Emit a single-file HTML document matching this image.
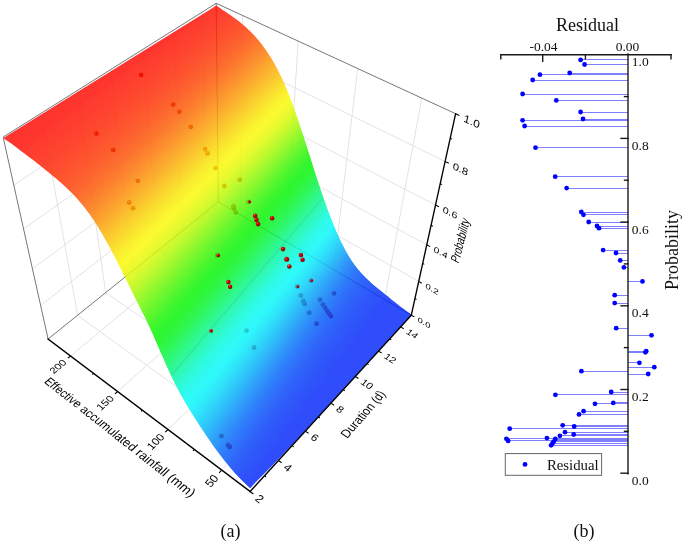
<!DOCTYPE html>
<html><head><meta charset="utf-8"><title>fig</title>
<style>
html,body{margin:0;padding:0;background:#fff;}
body{width:685px;height:543px;position:relative;overflow:hidden;font-family:"Liberation Sans",sans-serif;}
svg text{font-family:"Liberation Sans",sans-serif;}
.gr{stroke:#e3e3e3;stroke-width:1;fill:none}
.fr{stroke:#777;stroke-width:1;fill:none}
.in .gr{stroke:#efefef}
.in .fr{stroke:#8a8a8a}
.ax{stroke:#000;stroke-width:1.35;stroke-linecap:square}
.tk{stroke:#000;stroke-width:1.05}
.t3{font-size:10px;fill:#000}
.st{stroke:#8080ff;stroke-width:1}
.bx{stroke:#1a1a1a;stroke-width:1.4;stroke-linecap:square}
svg text.sl{font-family:"Liberation Serif",serif;font-size:13.5px;fill:#111}
svg text.st18{font-family:"Liberation Serif",serif;font-size:18px;fill:#111}
svg text.sg{font-family:"Liberation Serif",serif;font-size:14.8px;fill:#111}
svg text.cap{font-family:"Liberation Serif",serif;font-size:18px;fill:#111}
</style></head><body>
<svg width="685" height="543" viewBox="0 0 685 543" style="position:absolute;left:0;top:0">
<defs><radialGradient id="ball" cx="0.38" cy="0.32" r="0.75" fx="0.33" fy="0.27">
<stop offset="0" stop-color="#ff9080"/><stop offset="0.22" stop-color="#d80808"/><stop offset="0.65" stop-color="#b40000"/><stop offset="1" stop-color="#4a0000"/></radialGradient></defs>

<clipPath id="sc"><polygon points="3.4,138.1 16.6,147.5 32.4,159.3 44.1,168.6 54.0,176.7 62.3,183.9 68.8,189.8 73.8,194.9 77.9,199.3 81.4,203.4 84.5,207.2 87.3,210.8 89.8,214.3 92.1,217.6 94.2,220.8 96.3,223.9 98.2,226.9 100.0,229.9 101.7,232.8 103.4,235.7 105.0,238.5 106.5,241.3 108.0,244.1 109.5,246.8 111.0,249.5 112.4,252.2 113.8,254.8 115.1,257.4 116.5,260.1 117.8,262.7 119.1,265.2 120.4,267.8 121.7,270.3 122.9,272.9 124.2,275.4 125.4,277.9 126.7,280.4 127.9,282.9 129.1,285.4 130.3,287.8 131.5,290.3 132.7,292.8 133.9,295.2 135.1,297.7 136.4,300.2 137.6,302.6 138.9,305.1 140.1,307.6 141.4,310.0 142.7,312.5 143.9,314.9 145.1,317.4 146.3,319.7 147.4,322.1 148.5,324.4 149.5,326.7 150.6,329.0 151.6,331.3 152.6,333.5 153.6,335.7 154.6,337.9 155.5,340.1 156.5,342.3 157.4,344.5 158.4,346.7 159.3,348.9 160.2,351.0 161.2,353.2 162.1,355.3 163.0,357.5 164.0,359.6 164.9,361.8 165.9,363.9 166.8,366.0 167.8,368.2 168.7,370.3 169.7,372.5 170.8,374.7 171.8,376.9 172.9,379.0 173.9,381.3 175.1,383.5 176.2,385.7 177.4,388.0 178.6,390.3 179.8,392.6 181.1,394.9 182.4,397.3 183.8,399.6 185.1,402.0 186.6,404.5 188.0,406.9 189.5,409.4 191.1,411.9 192.7,414.4 194.3,416.9 195.9,419.5 197.5,422.1 199.2,424.6 200.9,427.2 202.6,429.8 204.4,432.5 206.1,435.1 208.0,437.8 209.9,440.5 211.8,443.3 213.8,446.1 215.8,448.9 217.9,451.8 220.2,454.8 222.5,457.9 225.0,461.0 227.6,464.3 230.5,467.8 233.7,471.5 237.4,475.6 242.0,480.3 249.2,487.0 250.2,487.9 250.2,487.9 250.2,487.9 411.5,314.5 405.0,309.9 396.1,303.2 388.8,297.4 381.7,291.7 375.1,286.4 369.8,281.8 365.6,277.8 362.3,274.4 359.4,271.2 357.0,268.3 354.9,265.6 353.0,262.9 351.3,260.4 349.7,258.0 348.3,255.6 346.9,253.3 345.7,251.0 344.5,248.8 343.3,246.6 342.2,244.4 341.1,242.2 340.1,240.1 339.1,238.0 338.2,235.9 337.2,233.8 336.3,231.7 335.4,229.6 334.5,227.5 333.7,225.4 332.8,223.4 332.0,221.3 331.2,219.3 330.4,217.2 329.6,215.2 328.8,213.1 328.1,211.1 327.3,209.1 326.6,207.0 325.8,205.0 325.1,202.9 324.4,200.9 323.7,198.9 323.0,196.8 322.3,194.8 321.6,192.8 320.9,190.7 320.2,188.7 319.5,186.7 318.8,184.6 318.2,182.6 317.5,180.5 316.8,178.5 316.2,176.4 315.5,174.4 314.8,172.3 314.2,170.3 313.5,168.2 312.9,166.1 312.2,164.1 311.5,162.0 310.9,159.9 310.2,157.8 309.6,155.7 308.9,153.6 308.2,151.5 307.6,149.4 306.9,147.3 306.2,145.2 305.5,143.1 304.9,141.0 304.2,138.8 303.5,136.7 302.8,134.5 302.1,132.4 301.4,130.2 300.7,128.0 299.9,125.8 299.2,123.7 298.5,121.5 297.7,119.3 297.0,117.0 296.2,114.8 295.4,112.6 294.6,110.3 293.8,108.1 293.0,105.8 292.2,103.5 291.3,101.2 290.4,98.9 289.5,96.6 288.6,94.2 287.7,91.9 286.7,89.5 285.7,87.1 284.7,84.7 283.6,82.3 282.5,79.8 281.3,77.3 280.1,74.8 278.8,72.3 277.5,69.7 276.1,67.1 274.7,64.4 273.2,61.7 271.5,59.0 269.8,56.2 268.0,53.4 266.0,50.5 263.9,47.5 261.6,44.4 259.1,41.3 256.3,38.0 253.1,34.5 249.5,30.8 245.1,26.7 239.8,22.3 232.9,17.1 223.9,10.9 216.2,5.8 216.2,5.8"/></clipPath>
<line class="gr" x1="40.6" y1="305.4" x2="217.9" y2="167.9"/>
<line class="gr" x1="217.9" y1="167.9" x2="418.7" y2="281.4"/>
<line class="gr" x1="32.5" y1="268.8" x2="217.5" y2="131.4"/>
<line class="gr" x1="217.5" y1="131.4" x2="426.8" y2="244.8"/>
<line class="gr" x1="23.6" y1="228.9" x2="217.1" y2="92.0"/>
<line class="gr" x1="217.1" y1="92.0" x2="435.5" y2="205.0"/>
<line class="gr" x1="13.8" y1="185.2" x2="216.7" y2="49.5"/>
<line class="gr" x1="216.7" y1="49.5" x2="445.1" y2="161.5"/>
<line class="gr" x1="77.6" y1="315.3" x2="41.0" y2="113.4"/>
<line class="gr" x1="77.6" y1="315.3" x2="278.4" y2="460.5"/>
<line class="gr" x1="105.7" y1="292.6" x2="76.8" y2="90.9"/>
<line class="gr" x1="105.7" y1="292.6" x2="305.3" y2="431.1"/>
<line class="gr" x1="132.6" y1="270.9" x2="110.7" y2="69.6"/>
<line class="gr" x1="132.6" y1="270.9" x2="330.9" y2="403.1"/>
<line class="gr" x1="158.4" y1="250.2" x2="142.8" y2="49.4"/>
<line class="gr" x1="158.4" y1="250.2" x2="355.3" y2="376.5"/>
<line class="gr" x1="183.1" y1="230.3" x2="173.2" y2="30.3"/>
<line class="gr" x1="183.1" y1="230.3" x2="378.5" y2="351.1"/>
<line class="gr" x1="206.8" y1="211.2" x2="202.2" y2="12.1"/>
<line class="gr" x1="206.8" y1="211.2" x2="400.6" y2="326.9"/>
<line class="gr" x1="240.1" y1="214.7" x2="242.6" y2="15.5"/>
<line class="gr" x1="70.6" y1="356.0" x2="240.1" y2="214.7"/>
<line class="gr" x1="285.5" y1="241.4" x2="298.2" y2="41.1"/>
<line class="gr" x1="117.6" y1="391.5" x2="285.5" y2="241.4"/>
<line class="gr" x1="333.6" y1="269.6" x2="357.7" y2="68.6"/>
<line class="gr" x1="167.9" y1="429.5" x2="333.6" y2="269.6"/>
<line class="gr" x1="384.7" y1="299.5" x2="421.7" y2="98.1"/>
<line class="gr" x1="221.7" y1="470.1" x2="384.7" y2="299.5"/>
<line class="fr" x1="48.1" y1="339.0" x2="3.1" y2="137.1"/>
<line class="fr" x1="3.1" y1="137.1" x2="216.2" y2="3.3"/>
<line class="fr" x1="216.2" y1="3.3" x2="455.6" y2="113.7"/>
<line class="fr" x1="218.3" y1="201.9" x2="216.2" y2="3.3"/>
<line class="fr" x1="48.1" y1="339.0" x2="218.3" y2="201.9"/>
<line class="fr" x1="218.3" y1="201.9" x2="411.3" y2="315.2"/>
<polygon fill="#fff" points="3.4,138.1 16.6,147.5 32.4,159.3 44.1,168.6 54.0,176.7 62.3,183.9 68.8,189.8 73.8,194.9 77.9,199.3 81.4,203.4 84.5,207.2 87.3,210.8 89.8,214.3 92.1,217.6 94.2,220.8 96.3,223.9 98.2,226.9 100.0,229.9 101.7,232.8 103.4,235.7 105.0,238.5 106.5,241.3 108.0,244.1 109.5,246.8 111.0,249.5 112.4,252.2 113.8,254.8 115.1,257.4 116.5,260.1 117.8,262.7 119.1,265.2 120.4,267.8 121.7,270.3 122.9,272.9 124.2,275.4 125.4,277.9 126.7,280.4 127.9,282.9 129.1,285.4 130.3,287.8 131.5,290.3 132.7,292.8 133.9,295.2 135.1,297.7 136.4,300.2 137.6,302.6 138.9,305.1 140.1,307.6 141.4,310.0 142.7,312.5 143.9,314.9 145.1,317.4 146.3,319.7 147.4,322.1 148.5,324.4 149.5,326.7 150.6,329.0 151.6,331.3 152.6,333.5 153.6,335.7 154.6,337.9 155.5,340.1 156.5,342.3 157.4,344.5 158.4,346.7 159.3,348.9 160.2,351.0 161.2,353.2 162.1,355.3 163.0,357.5 164.0,359.6 164.9,361.8 165.9,363.9 166.8,366.0 167.8,368.2 168.7,370.3 169.7,372.5 170.8,374.7 171.8,376.9 172.9,379.0 173.9,381.3 175.1,383.5 176.2,385.7 177.4,388.0 178.6,390.3 179.8,392.6 181.1,394.9 182.4,397.3 183.8,399.6 185.1,402.0 186.6,404.5 188.0,406.9 189.5,409.4 191.1,411.9 192.7,414.4 194.3,416.9 195.9,419.5 197.5,422.1 199.2,424.6 200.9,427.2 202.6,429.8 204.4,432.5 206.1,435.1 208.0,437.8 209.9,440.5 211.8,443.3 213.8,446.1 215.8,448.9 217.9,451.8 220.2,454.8 222.5,457.9 225.0,461.0 227.6,464.3 230.5,467.8 233.7,471.5 237.4,475.6 242.0,480.3 249.2,487.0 250.2,487.9 250.2,487.9 250.2,487.9 411.5,314.5 405.0,309.9 396.1,303.2 388.8,297.4 381.7,291.7 375.1,286.4 369.8,281.8 365.6,277.8 362.3,274.4 359.4,271.2 357.0,268.3 354.9,265.6 353.0,262.9 351.3,260.4 349.7,258.0 348.3,255.6 346.9,253.3 345.7,251.0 344.5,248.8 343.3,246.6 342.2,244.4 341.1,242.2 340.1,240.1 339.1,238.0 338.2,235.9 337.2,233.8 336.3,231.7 335.4,229.6 334.5,227.5 333.7,225.4 332.8,223.4 332.0,221.3 331.2,219.3 330.4,217.2 329.6,215.2 328.8,213.1 328.1,211.1 327.3,209.1 326.6,207.0 325.8,205.0 325.1,202.9 324.4,200.9 323.7,198.9 323.0,196.8 322.3,194.8 321.6,192.8 320.9,190.7 320.2,188.7 319.5,186.7 318.8,184.6 318.2,182.6 317.5,180.5 316.8,178.5 316.2,176.4 315.5,174.4 314.8,172.3 314.2,170.3 313.5,168.2 312.9,166.1 312.2,164.1 311.5,162.0 310.9,159.9 310.2,157.8 309.6,155.7 308.9,153.6 308.2,151.5 307.6,149.4 306.9,147.3 306.2,145.2 305.5,143.1 304.9,141.0 304.2,138.8 303.5,136.7 302.8,134.5 302.1,132.4 301.4,130.2 300.7,128.0 299.9,125.8 299.2,123.7 298.5,121.5 297.7,119.3 297.0,117.0 296.2,114.8 295.4,112.6 294.6,110.3 293.8,108.1 293.0,105.8 292.2,103.5 291.3,101.2 290.4,98.9 289.5,96.6 288.6,94.2 287.7,91.9 286.7,89.5 285.7,87.1 284.7,84.7 283.6,82.3 282.5,79.8 281.3,77.3 280.1,74.8 278.8,72.3 277.5,69.7 276.1,67.1 274.7,64.4 273.2,61.7 271.5,59.0 269.8,56.2 268.0,53.4 266.0,50.5 263.9,47.5 261.6,44.4 259.1,41.3 256.3,38.0 253.1,34.5 249.5,30.8 245.1,26.7 239.8,22.3 232.9,17.1 223.9,10.9 216.2,5.8 216.2,5.8"/>
<g clip-path="url(#sc)" class="in">
<line class="gr" x1="40.6" y1="305.4" x2="217.9" y2="167.9"/>
<line class="gr" x1="217.9" y1="167.9" x2="418.7" y2="281.4"/>
<line class="gr" x1="32.5" y1="268.8" x2="217.5" y2="131.4"/>
<line class="gr" x1="217.5" y1="131.4" x2="426.8" y2="244.8"/>
<line class="gr" x1="23.6" y1="228.9" x2="217.1" y2="92.0"/>
<line class="gr" x1="217.1" y1="92.0" x2="435.5" y2="205.0"/>
<line class="gr" x1="13.8" y1="185.2" x2="216.7" y2="49.5"/>
<line class="gr" x1="216.7" y1="49.5" x2="445.1" y2="161.5"/>
<line class="gr" x1="77.6" y1="315.3" x2="41.0" y2="113.4"/>
<line class="gr" x1="77.6" y1="315.3" x2="278.4" y2="460.5"/>
<line class="gr" x1="105.7" y1="292.6" x2="76.8" y2="90.9"/>
<line class="gr" x1="105.7" y1="292.6" x2="305.3" y2="431.1"/>
<line class="gr" x1="132.6" y1="270.9" x2="110.7" y2="69.6"/>
<line class="gr" x1="132.6" y1="270.9" x2="330.9" y2="403.1"/>
<line class="gr" x1="158.4" y1="250.2" x2="142.8" y2="49.4"/>
<line class="gr" x1="158.4" y1="250.2" x2="355.3" y2="376.5"/>
<line class="gr" x1="183.1" y1="230.3" x2="173.2" y2="30.3"/>
<line class="gr" x1="183.1" y1="230.3" x2="378.5" y2="351.1"/>
<line class="gr" x1="206.8" y1="211.2" x2="202.2" y2="12.1"/>
<line class="gr" x1="206.8" y1="211.2" x2="400.6" y2="326.9"/>
<line class="gr" x1="240.1" y1="214.7" x2="242.6" y2="15.5"/>
<line class="gr" x1="70.6" y1="356.0" x2="240.1" y2="214.7"/>
<line class="gr" x1="285.5" y1="241.4" x2="298.2" y2="41.1"/>
<line class="gr" x1="117.6" y1="391.5" x2="285.5" y2="241.4"/>
<line class="gr" x1="333.6" y1="269.6" x2="357.7" y2="68.6"/>
<line class="gr" x1="167.9" y1="429.5" x2="333.6" y2="269.6"/>
<line class="gr" x1="384.7" y1="299.5" x2="421.7" y2="98.1"/>
<line class="gr" x1="221.7" y1="470.1" x2="384.7" y2="299.5"/>
<line class="fr" x1="48.1" y1="339.0" x2="3.1" y2="137.1"/>
<line class="fr" x1="3.1" y1="137.1" x2="216.2" y2="3.3"/>
<line class="fr" x1="216.2" y1="3.3" x2="455.6" y2="113.7"/>
<line class="fr" x1="218.3" y1="201.9" x2="216.2" y2="3.3"/>
<line class="fr" x1="48.1" y1="339.0" x2="218.3" y2="201.9"/>
<line class="fr" x1="218.3" y1="201.9" x2="411.3" y2="315.2"/>
</g>
<g id="under">
<circle cx="141.1" cy="74.9" r="2.4" fill="url(#ball)"/>
<circle cx="173.2" cy="104.6" r="2.4" fill="url(#ball)"/>
<circle cx="179.3" cy="111.7" r="2.4" fill="url(#ball)"/>
<circle cx="190.8" cy="126.8" r="2.4" fill="url(#ball)"/>
<circle cx="96.4" cy="133.6" r="2.4" fill="url(#ball)"/>
<circle cx="113.3" cy="149.9" r="2.4" fill="url(#ball)"/>
<circle cx="205.1" cy="149.1" r="2.4" fill="url(#ball)"/>
<circle cx="207.5" cy="153.4" r="2.4" fill="url(#ball)"/>
<circle cx="215.4" cy="167.9" r="2.4" fill="url(#ball)"/>
<circle cx="137.8" cy="180.8" r="2.4" fill="url(#ball)"/>
<circle cx="129.2" cy="202.5" r="2.4" fill="url(#ball)"/>
<circle cx="133.0" cy="208.2" r="2.4" fill="url(#ball)"/>
<circle cx="239.7" cy="179.7" r="2.4" fill="url(#ball)"/>
<circle cx="224.3" cy="186.0" r="2.4" fill="url(#ball)"/>
<circle cx="233.4" cy="206.4" r="2.4" fill="url(#ball)"/>
<circle cx="234.0" cy="208.4" r="2.4" fill="url(#ball)"/>
<circle cx="235.7" cy="212.3" r="2.4" fill="url(#ball)"/>
<circle cx="246.5" cy="330.6" r="2.4" fill="url(#ball)"/>
<circle cx="254.0" cy="347.5" r="2.4" fill="url(#ball)"/>
<circle cx="221.4" cy="436.1" r="2.4" fill="url(#ball)"/>
<circle cx="227.9" cy="444.9" r="2.4" fill="url(#ball)"/>
<circle cx="229.7" cy="447.0" r="2.4" fill="url(#ball)"/>
<circle cx="300.8" cy="295.4" r="2.4" fill="url(#ball)"/>
<circle cx="303.3" cy="301.0" r="2.4" fill="url(#ball)"/>
<circle cx="304.7" cy="303.9" r="2.4" fill="url(#ball)"/>
<circle cx="309.1" cy="312.7" r="2.4" fill="url(#ball)"/>
<circle cx="316.4" cy="323.7" r="2.4" fill="url(#ball)"/>
<circle cx="319.9" cy="299.6" r="2.4" fill="url(#ball)"/>
<circle cx="322.8" cy="304.4" r="2.4" fill="url(#ball)"/>
<circle cx="325.0" cy="307.6" r="2.4" fill="url(#ball)"/>
<circle cx="327.0" cy="310.8" r="2.4" fill="url(#ball)"/>
<circle cx="328.8" cy="313.3" r="2.4" fill="url(#ball)"/>
<circle cx="330.9" cy="316.1" r="2.4" fill="url(#ball)"/>
<circle cx="334.0" cy="293.3" r="2.4" fill="url(#ball)"/>
<circle cx="248.4" cy="201.8" r="2.4" fill="url(#ball)"/>
<circle cx="217.4" cy="255.4" r="2.4" fill="url(#ball)"/>
<circle cx="311.0" cy="280.6" r="2.4" fill="url(#ball)"/>
<circle cx="297.2" cy="286.5" r="2.4" fill="url(#ball)"/>
</g>

<g opacity="0.81">
<polygon fill="rgb(254,6,0)" points="3.4,138.1 4.9,139.2 6.6,140.4 8.3,141.5 9.8,142.6 11.3,143.6 12.6,144.6 13.9,145.5 15.8,146.9 17.6,148.2 19.2,149.4 28.3,156.1 221.0,8.9 216.2,5.8 216.2,5.8 216.2,5.8 216.2,5.8 216.2,5.8 216.2,5.8 216.2,5.8 216.2,5.8 216.2,5.8 216.2,5.8 216.2,5.8"/>
<polygon fill="rgb(254,12,0)" points="19.2,149.4 216.2,5.8 217.1,6.4 22.3,151.7"/>
<polygon fill="rgb(254,13,0)" points="20.8,150.6 216.3,5.8 218.0,7.0 23.8,152.8"/>
<polygon fill="rgb(254,14,0)" points="22.3,151.7 217.1,6.4 218.9,7.6 25.2,153.8"/>
<polygon fill="rgb(254,15,0)" points="23.8,152.8 218.0,7.0 219.8,8.2 26.6,154.9"/>
<polygon fill="rgb(254,16,0)" points="25.2,153.8 218.9,7.6 220.7,8.8 27.9,155.9"/>
<polygon fill="rgb(254,17,0)" points="26.6,154.9 219.8,8.2 221.6,9.4 29.2,156.9"/>
<polygon fill="rgb(254,18,0)" points="27.9,155.9 220.7,8.8 222.8,10.2 30.9,158.1"/>
<polygon fill="rgb(254,19,0)" points="29.2,156.9 221.6,9.4 224.0,11.0 32.5,159.4"/>
<polygon fill="rgb(254,20,0)" points="30.9,158.1 222.8,10.2 225.2,11.8 34.1,160.6"/>
<polygon fill="rgb(254,21,0)" points="32.5,159.4 224.0,11.0 226.4,12.5 35.6,161.8"/>
<polygon fill="rgb(254,23,0)" points="34.1,160.6 225.2,11.8 227.5,13.3 37.0,162.9"/>
<polygon fill="rgb(254,24,0)" points="35.6,161.8 226.4,12.5 228.6,14.0 38.5,164.0"/>
<polygon fill="rgb(254,25,0)" points="37.0,162.9 227.5,13.3 229.7,14.8 39.8,165.1"/>
<polygon fill="rgb(254,26,0)" points="38.5,164.0 228.6,14.0 230.7,15.5 41.2,166.2"/>
<polygon fill="rgb(254,27,0)" points="39.8,165.1 229.7,14.8 231.7,16.2 42.5,167.3"/>
<polygon fill="rgb(254,29,0)" points="41.2,166.2 230.7,15.5 232.7,16.9 43.8,168.3"/>
<polygon fill="rgb(254,30,0)" points="42.5,167.3 231.7,16.2 233.6,17.6 45.1,169.4"/>
<polygon fill="rgb(254,31,0)" points="43.8,168.3 232.7,16.9 234.5,18.2 46.3,170.4"/>
<polygon fill="rgb(254,32,0)" points="45.1,169.4 233.6,17.6 235.6,19.0 47.9,171.6"/>
<polygon fill="rgb(254,34,0)" points="46.3,170.4 234.5,18.2 236.7,19.8 49.3,172.8"/>
<polygon fill="rgb(254,35,0)" points="47.9,171.6 235.6,19.0 237.7,20.6 50.8,174.0"/>
<polygon fill="rgb(254,37,0)" points="49.3,172.8 236.7,19.8 238.6,21.3 52.2,175.2"/>
<polygon fill="rgb(254,38,0)" points="50.8,174.0 237.7,20.6 239.6,22.1 53.6,176.4"/>
<polygon fill="rgb(254,40,0)" points="52.2,175.2 238.6,21.3 240.5,22.8 55.0,177.5"/>
<polygon fill="rgb(254,41,0)" points="53.6,176.4 239.6,22.1 241.3,23.5 56.3,178.6"/>
<polygon fill="rgb(254,43,0)" points="55.0,177.5 240.5,22.8 242.1,24.2 57.6,179.8"/>
<polygon fill="rgb(254,45,0)" points="56.3,178.6 241.3,23.5 242.9,24.8 58.9,180.8"/>
<polygon fill="rgb(254,46,0)" points="57.6,179.8 242.1,24.2 243.7,25.5 60.1,181.9"/>
<polygon fill="rgb(254,48,0)" points="58.9,180.8 242.9,24.8 244.6,26.3 61.5,183.1"/>
<polygon fill="rgb(254,49,0)" points="60.1,181.9 243.7,25.5 245.5,27.0 62.8,184.3"/>
<polygon fill="rgb(253,51,0)" points="61.5,183.1 244.6,26.3 246.3,27.8 64.1,185.4"/>
<polygon fill="rgb(253,53,0)" points="62.8,184.3 245.5,27.0 247.1,28.5 65.3,186.6"/>
<polygon fill="rgb(253,55,0)" points="64.1,185.4 246.3,27.8 248.0,29.4 66.7,187.8"/>
<polygon fill="rgb(253,57,0)" points="65.3,186.6 247.1,28.5 248.9,30.2 67.9,189.0"/>
<polygon fill="rgb(253,59,0)" points="66.7,187.8 248.0,29.4 249.7,31.0 69.1,190.1"/>
<polygon fill="rgb(253,61,0)" points="67.9,189.0 248.9,30.2 250.6,31.9 70.4,191.4"/>
<polygon fill="rgb(253,63,0)" points="69.1,190.1 249.7,31.0 251.5,32.8 71.6,192.6"/>
<polygon fill="rgb(253,65,0)" points="70.4,191.4 250.6,31.9 252.4,33.7 72.8,193.8"/>
<polygon fill="rgb(253,68,0)" points="71.6,192.6 251.5,32.8 253.3,34.6 74.0,195.1"/>
<polygon fill="rgb(253,70,0)" points="72.8,193.8 252.4,33.7 254.2,35.6 75.2,196.3"/>
<polygon fill="rgb(253,73,0)" points="74.0,195.1 253.3,34.6 255.0,36.5 76.3,197.6"/>
<polygon fill="rgb(253,76,0)" points="75.2,196.3 254.2,35.6 255.9,37.6 77.5,198.9"/>
<polygon fill="rgb(253,78,0)" points="76.3,197.6 255.0,36.5 256.8,38.6 78.6,200.1"/>
<polygon fill="rgb(253,81,0)" points="77.5,198.9 255.9,37.6 257.7,39.6 79.7,201.4"/>
<polygon fill="rgb(253,84,0)" points="78.6,200.1 256.8,38.6 258.6,40.7 80.8,202.7"/>
<polygon fill="rgb(253,87,0)" points="79.7,201.4 257.7,39.6 259.5,41.7 81.9,204.0"/>
<polygon fill="rgb(253,90,0)" points="80.8,202.7 258.6,40.7 260.3,42.8 82.9,205.3"/>
<polygon fill="rgb(253,94,0)" points="81.9,204.0 259.5,41.7 261.2,43.9 84.0,206.6"/>
<polygon fill="rgb(253,97,0)" points="82.9,205.3 260.3,42.8 262.1,45.1 85.1,208.0"/>
<polygon fill="rgb(252,100,0)" points="84.0,206.6 261.2,43.9 262.9,46.2 86.1,209.3"/>
<polygon fill="rgb(252,104,0)" points="85.1,208.0 262.1,45.1 263.7,47.3 87.0,210.5"/>
<polygon fill="rgb(252,107,0)" points="86.1,209.3 262.9,46.2 264.6,48.4 88.1,211.9"/>
<polygon fill="rgb(252,110,0)" points="87.0,210.5 263.7,47.3 265.4,49.6 89.0,213.3"/>
<polygon fill="rgb(252,114,0)" points="88.1,211.9 264.6,48.4 266.2,50.8 90.0,214.6"/>
<polygon fill="rgb(252,118,0)" points="89.0,213.3 265.4,49.6 267.0,52.0 91.0,216.0"/>
<polygon fill="rgb(252,121,0)" points="90.0,214.6 266.2,50.8 267.9,53.2 91.9,217.4"/>
<polygon fill="rgb(252,125,0)" points="91.0,216.0 267.0,52.0 268.6,54.4 92.9,218.7"/>
<polygon fill="rgb(252,129,0)" points="91.9,217.4 267.9,53.2 269.4,55.6 93.8,220.1"/>
<polygon fill="rgb(252,133,0)" points="92.9,218.7 268.6,54.4 270.2,56.8 94.7,221.5"/>
<polygon fill="rgb(252,137,0)" points="93.8,220.1 269.4,55.6 271.0,58.1 95.6,222.9"/>
<polygon fill="rgb(252,141,0)" points="94.7,221.5 270.2,56.8 271.7,59.3 96.5,224.3"/>
<polygon fill="rgb(252,144,0)" points="95.6,222.9 271.0,58.1 272.5,60.6 97.4,225.6"/>
<polygon fill="rgb(252,148,0)" points="96.5,224.3 271.7,59.3 273.2,61.9 98.3,227.1"/>
<polygon fill="rgb(251,152,0)" points="97.4,225.6 272.5,60.6 274.0,63.2 99.1,228.5"/>
<polygon fill="rgb(251,156,0)" points="98.3,227.1 273.2,61.9 274.7,64.5 100.0,229.9"/>
<polygon fill="rgb(251,160,0)" points="99.1,228.5 274.0,63.2 275.4,65.7 100.8,231.3"/>
<polygon fill="rgb(251,164,0)" points="100.0,229.9 274.7,64.5 276.1,67.0 101.7,232.7"/>
<polygon fill="rgb(251,168,0)" points="100.8,231.3 275.4,65.7 276.8,68.3 102.5,234.1"/>
<polygon fill="rgb(251,172,0)" points="101.7,232.7 276.1,67.0 277.5,69.6 103.3,235.6"/>
<polygon fill="rgb(251,176,0)" points="102.5,234.1 276.8,68.3 278.1,70.9 104.1,237.0"/>
<polygon fill="rgb(251,180,0)" points="103.3,235.6 277.5,69.6 278.8,72.2 104.9,238.5"/>
<polygon fill="rgb(251,184,0)" points="104.1,237.0 278.1,70.9 279.5,73.5 105.7,239.9"/>
<polygon fill="rgb(251,188,0)" points="104.9,238.5 278.8,72.2 280.1,74.8 106.5,241.3"/>
<polygon fill="rgb(251,192,0)" points="105.7,239.9 279.5,73.5 280.7,76.1 107.3,242.7"/>
<polygon fill="rgb(251,196,0)" points="106.5,241.3 280.1,74.8 281.4,77.4 108.1,244.2"/>
<polygon fill="rgb(250,200,0)" points="107.3,242.7 280.7,76.1 282.0,78.8 108.9,245.7"/>
<polygon fill="rgb(250,204,0)" points="108.1,244.2 281.4,77.4 282.6,80.1 109.7,247.1"/>
<polygon fill="rgb(250,208,0)" points="108.9,245.7 282.0,78.8 283.2,81.5 110.5,248.6"/>
<polygon fill="rgb(250,211,0)" points="109.7,247.1 282.6,80.1 283.8,82.8 111.3,250.0"/>
<polygon fill="rgb(250,215,0)" points="110.5,248.6 283.2,81.5 284.4,84.1 112.0,251.5"/>
<polygon fill="rgb(250,219,0)" points="111.3,250.0 283.8,82.8 285.0,85.4 112.8,252.9"/>
<polygon fill="rgb(250,222,0)" points="112.0,251.5 284.4,84.1 285.5,86.7 113.5,254.4"/>
<polygon fill="rgb(250,226,0)" points="112.8,252.9 285.0,85.4 286.1,88.0 114.3,255.8"/>
<polygon fill="rgb(250,229,0)" points="113.5,254.4 285.5,86.7 286.6,89.4 115.1,257.3"/>
<polygon fill="rgb(250,232,0)" points="114.3,255.8 286.1,88.0 287.2,90.7 115.8,258.8"/>
<polygon fill="rgb(250,235,0)" points="115.1,257.3 286.6,89.4 287.7,92.1 116.6,260.3"/>
<polygon fill="rgb(250,238,0)" points="115.8,258.8 287.2,90.7 288.3,93.4 117.4,261.7"/>
<polygon fill="rgb(250,241,0)" points="116.6,260.3 287.7,92.1 288.8,94.8 118.1,263.2"/>
<polygon fill="rgb(250,244,0)" points="117.4,261.7 288.3,93.4 289.3,96.1 118.8,264.7"/>
<polygon fill="rgb(250,246,0)" points="118.1,263.2 288.8,94.8 289.9,97.4 119.6,266.2"/>
<polygon fill="rgb(250,248,0)" points="118.8,264.7 289.3,96.1 290.4,98.7 120.3,267.6"/>
<polygon fill="rgb(249,249,0)" points="119.6,266.2 289.9,97.4 290.9,100.1 121.0,269.1"/>
<polygon fill="rgb(247,249,0)" points="120.3,267.6 290.4,98.7 291.4,101.4 121.8,270.5"/>
<polygon fill="rgb(244,249,0)" points="121.0,269.1 290.9,100.1 291.8,102.7 122.5,272.0"/>
<polygon fill="rgb(241,249,0)" points="121.8,270.5 291.4,101.4 292.3,104.0 123.2,273.4"/>
<polygon fill="rgb(238,249,0)" points="122.5,272.0 291.8,102.7 292.8,105.3 123.9,274.8"/>
<polygon fill="rgb(235,249,0)" points="123.2,273.4 292.3,104.0 293.3,106.7 124.7,276.4"/>
<polygon fill="rgb(231,249,0)" points="123.9,274.8 292.8,105.3 293.8,108.0 125.4,277.9"/>
<polygon fill="rgb(227,249,0)" points="124.7,276.4 293.3,106.7 294.3,109.4 126.1,279.4"/>
<polygon fill="rgb(223,249,0)" points="125.4,277.9 293.8,108.0 294.8,110.7 126.9,280.9"/>
<polygon fill="rgb(218,249,0)" points="126.1,279.4 294.3,109.4 295.2,112.1 127.6,282.3"/>
<polygon fill="rgb(213,249,0)" points="126.9,280.9 294.8,110.7 295.7,113.4 128.3,283.8"/>
<polygon fill="rgb(208,249,0)" points="127.6,282.3 295.2,112.1 296.2,114.8 129.1,285.3"/>
<polygon fill="rgb(203,249,0)" points="128.3,283.8 295.7,113.4 296.6,116.1 129.8,286.8"/>
<polygon fill="rgb(198,248,0)" points="129.1,285.3 296.2,114.8 297.1,117.4 130.5,288.3"/>
<polygon fill="rgb(192,248,0)" points="129.8,286.8 296.6,116.1 297.6,118.8 131.2,289.8"/>
<polygon fill="rgb(187,248,0)" points="130.5,288.3 297.1,117.4 298.0,120.1 132.0,291.2"/>
<polygon fill="rgb(181,248,0)" points="131.2,289.8 297.6,118.8 298.5,121.4 132.7,292.7"/>
<polygon fill="rgb(175,248,0)" points="132.0,291.2 298.0,120.1 298.9,122.7 133.4,294.2"/>
<polygon fill="rgb(169,248,0)" points="132.7,292.7 298.5,121.4 299.3,124.1 134.1,295.7"/>
<polygon fill="rgb(163,248,0)" points="133.4,294.2 298.9,122.7 299.8,125.4 134.9,297.1"/>
<polygon fill="rgb(156,248,0)" points="134.1,295.7 299.3,124.1 300.2,126.7 135.6,298.6"/>
<polygon fill="rgb(150,248,0)" points="134.9,297.1 299.8,125.4 300.6,128.0 136.3,300.1"/>
<polygon fill="rgb(144,247,0)" points="135.6,298.6 300.2,126.7 301.1,129.3 137.1,301.6"/>
<polygon fill="rgb(137,247,0)" points="136.3,300.1 300.6,128.0 301.5,130.6 137.8,303.1"/>
<polygon fill="rgb(131,247,0)" points="137.1,301.6 301.1,129.3 301.9,131.9 138.6,304.5"/>
<polygon fill="rgb(125,247,0)" points="137.8,303.1 301.5,130.6 302.4,133.2 139.3,306.0"/>
<polygon fill="rgb(118,247,0)" points="138.6,304.5 301.9,131.9 302.8,134.5 140.1,307.5"/>
<polygon fill="rgb(112,247,0)" points="139.3,306.0 302.4,133.2 303.2,135.8 140.9,309.0"/>
<polygon fill="rgb(105,247,0)" points="140.1,307.5 302.8,134.5 303.6,137.1 141.6,310.5"/>
<polygon fill="rgb(99,246,0)" points="140.9,309.0 303.2,135.8 304.0,138.3 142.4,312.0"/>
<polygon fill="rgb(93,246,0)" points="141.6,310.5 303.6,137.1 304.4,139.6 143.1,313.4"/>
<polygon fill="rgb(86,246,0)" points="142.4,312.0 304.0,138.3 304.8,140.9 143.9,314.9"/>
<polygon fill="rgb(80,246,0)" points="143.1,313.4 304.4,139.6 305.3,142.2 144.6,316.3"/>
<polygon fill="rgb(74,246,0)" points="143.9,314.9 304.8,140.9 305.7,143.5 145.3,317.8"/>
<polygon fill="rgb(68,246,0)" points="144.6,316.3 305.3,142.2 306.1,144.8 146.0,319.3"/>
<polygon fill="rgb(62,246,0)" points="145.3,317.8 305.7,143.5 306.5,146.1 146.8,320.8"/>
<polygon fill="rgb(56,246,0)" points="146.0,319.3 306.1,144.8 306.9,147.5 147.5,322.3"/>
<polygon fill="rgb(51,246,0)" points="146.8,320.8 306.5,146.1 307.4,148.8 148.1,323.7"/>
<polygon fill="rgb(45,245,0)" points="147.5,322.3 306.9,147.5 307.8,150.1 148.8,325.2"/>
<polygon fill="rgb(40,245,0)" points="148.1,323.7 307.4,148.8 308.2,151.5 149.5,326.7"/>
<polygon fill="rgb(34,245,0)" points="148.8,325.2 307.8,150.1 308.7,152.9 150.2,328.2"/>
<polygon fill="rgb(29,245,0)" points="149.5,326.7 308.2,151.5 309.1,154.3 150.9,329.7"/>
<polygon fill="rgb(24,245,0)" points="150.2,328.2 308.7,152.9 309.5,155.7 151.6,331.2"/>
<polygon fill="rgb(19,245,0)" points="150.9,329.7 309.1,154.3 310.0,157.0 152.2,332.7"/>
<polygon fill="rgb(15,245,0)" points="151.6,331.2 309.5,155.7 310.4,158.4 152.9,334.1"/>
<polygon fill="rgb(11,245,0)" points="152.2,332.7 310.0,157.0 310.8,159.8 153.5,335.6"/>
<polygon fill="rgb(7,245,0)" points="152.9,334.1 310.4,158.4 311.3,161.2 154.2,337.1"/>
<polygon fill="rgb(4,245,0)" points="153.5,335.6 310.8,159.8 311.8,162.7 154.9,338.7"/>
<polygon fill="rgb(1,245,0)" points="154.2,337.1 311.3,161.2 312.2,164.1 155.5,340.2"/>
<polygon fill="rgb(0,245,1)" points="154.9,338.7 311.8,162.7 312.7,165.5 156.2,341.7"/>
<polygon fill="rgb(0,245,4)" points="155.5,340.2 312.2,164.1 313.1,167.0 156.9,343.2"/>
<polygon fill="rgb(0,245,7)" points="156.2,341.7 312.7,165.5 313.6,168.4 157.5,344.7"/>
<polygon fill="rgb(0,245,11)" points="156.9,343.2 313.1,167.0 314.0,169.8 158.2,346.2"/>
<polygon fill="rgb(0,245,15)" points="157.5,344.7 313.6,168.4 314.5,171.2 158.8,347.7"/>
<polygon fill="rgb(0,245,20)" points="158.2,346.2 314.0,169.8 314.9,172.6 159.5,349.2"/>
<polygon fill="rgb(0,245,25)" points="158.8,347.7 314.5,171.2 315.4,174.1 160.1,350.7"/>
<polygon fill="rgb(0,245,30)" points="159.5,349.2 314.9,172.6 315.9,175.5 160.7,352.2"/>
<polygon fill="rgb(0,245,35)" points="160.1,350.7 315.4,174.1 316.3,176.9 161.4,353.7"/>
<polygon fill="rgb(0,245,41)" points="160.7,352.2 315.9,175.5 316.8,178.3 162.0,355.1"/>
<polygon fill="rgb(0,245,47)" points="161.4,353.7 316.3,176.9 317.2,179.7 162.7,356.6"/>
<polygon fill="rgb(0,246,53)" points="162.0,355.1 316.8,178.3 317.7,181.1 163.3,358.1"/>
<polygon fill="rgb(0,246,59)" points="162.7,356.6 317.2,179.7 318.2,182.5 164.0,359.6"/>
<polygon fill="rgb(0,246,66)" points="163.3,358.1 317.7,181.1 318.6,184.0 164.6,361.1"/>
<polygon fill="rgb(0,246,73)" points="164.0,359.6 318.2,182.5 319.1,185.4 165.3,362.5"/>
<polygon fill="rgb(0,246,80)" points="164.6,361.1 318.6,184.0 319.6,186.8 165.9,364.0"/>
<polygon fill="rgb(0,246,87)" points="165.3,362.5 319.1,185.4 320.0,188.2 166.6,365.5"/>
<polygon fill="rgb(0,246,94)" points="165.9,364.0 319.6,186.8 320.5,189.6 167.2,367.0"/>
<polygon fill="rgb(0,247,101)" points="166.6,365.5 320.0,188.2 321.0,191.0 167.9,368.5"/>
<polygon fill="rgb(0,247,108)" points="167.2,367.0 320.5,189.6 321.4,192.4 168.6,370.0"/>
<polygon fill="rgb(0,247,116)" points="167.9,368.5 321.0,191.0 321.9,193.8 169.3,371.4"/>
<polygon fill="rgb(0,247,123)" points="168.6,370.0 321.4,192.4 322.4,195.2 169.9,372.9"/>
<polygon fill="rgb(0,247,130)" points="169.3,371.4 321.9,193.8 322.9,196.6 170.6,374.4"/>
<polygon fill="rgb(0,247,138)" points="169.9,372.9 322.4,195.2 323.4,198.0 171.4,375.9"/>
<polygon fill="rgb(0,247,145)" points="170.6,374.4 322.9,196.6 323.9,199.4 172.0,377.4"/>
<polygon fill="rgb(0,248,152)" points="171.4,375.9 323.4,198.0 324.3,200.7 172.7,378.8"/>
<polygon fill="rgb(0,248,159)" points="172.0,377.4 323.9,199.4 324.8,202.1 173.5,380.3"/>
<polygon fill="rgb(0,248,166)" points="172.7,378.8 324.3,200.7 325.3,203.4 174.2,381.7"/>
<polygon fill="rgb(0,248,172)" points="173.5,380.3 324.8,202.1 325.8,204.7 174.9,383.2"/>
<polygon fill="rgb(0,248,179)" points="174.2,381.7 325.3,203.4 326.2,206.1 175.7,384.7"/>
<polygon fill="rgb(0,248,185)" points="174.9,383.2 325.8,204.7 326.7,207.4 176.4,386.2"/>
<polygon fill="rgb(0,248,192)" points="175.7,384.7 326.2,206.1 327.2,208.7 177.2,387.6"/>
<polygon fill="rgb(0,248,198)" points="176.4,386.2 326.7,207.4 327.7,210.0 177.9,389.0"/>
<polygon fill="rgb(0,249,203)" points="177.2,387.6 327.2,208.7 328.1,211.3 178.7,390.5"/>
<polygon fill="rgb(0,249,209)" points="177.9,389.0 327.7,210.0 328.6,212.6 179.5,391.9"/>
<polygon fill="rgb(0,249,214)" points="178.7,390.5 328.1,211.3 329.1,213.8 180.3,393.4"/>
<polygon fill="rgb(0,249,219)" points="179.5,391.9 328.6,212.6 329.6,215.1 181.1,394.9"/>
<polygon fill="rgb(0,249,224)" points="180.3,393.4 329.1,213.8 330.1,216.4 181.9,396.3"/>
<polygon fill="rgb(0,249,228)" points="181.1,394.9 329.6,215.1 330.5,217.6 182.6,397.7"/>
<polygon fill="rgb(0,249,232)" points="181.9,396.3 330.1,216.4 331.0,218.8 183.5,399.1"/>
<polygon fill="rgb(0,249,236)" points="182.6,397.7 330.5,217.6 331.5,220.1 184.3,400.5"/>
<polygon fill="rgb(0,249,239)" points="183.5,399.1 331.0,218.8 332.0,221.3 185.1,402.0"/>
<polygon fill="rgb(0,249,243)" points="184.3,400.5 331.5,220.1 332.5,222.5 186.0,403.4"/>
<polygon fill="rgb(0,249,245)" points="185.1,402.0 332.0,221.3 333.0,223.7 186.8,404.8"/>
<polygon fill="rgb(0,249,248)" points="186.0,403.4 332.5,222.5 333.4,224.9 187.6,406.2"/>
<polygon fill="rgb(0,249,250)" points="186.8,404.8 333.0,223.7 333.9,226.0 188.5,407.6"/>
<polygon fill="rgb(0,247,250)" points="187.6,406.2 333.4,224.9 334.4,227.2 189.3,409.0"/>
<polygon fill="rgb(0,244,250)" points="188.5,407.6 333.9,226.0 334.9,228.4 190.2,410.5"/>
<polygon fill="rgb(0,242,250)" points="189.3,409.0 334.4,227.2 335.4,229.6 191.1,411.9"/>
<polygon fill="rgb(0,239,250)" points="190.2,410.5 334.9,228.4 335.9,230.8 192.0,413.3"/>
<polygon fill="rgb(0,236,250)" points="191.1,411.9 335.4,229.6 336.4,231.9 192.8,414.7"/>
<polygon fill="rgb(0,232,250)" points="192.0,413.3 335.9,230.8 336.9,233.0 193.7,416.0"/>
<polygon fill="rgb(0,229,250)" points="192.8,414.7 336.4,231.9 337.4,234.2 194.6,417.4"/>
<polygon fill="rgb(0,225,250)" points="193.7,416.0 336.9,233.0 337.9,235.3 195.4,418.8"/>
<polygon fill="rgb(0,222,250)" points="194.6,417.4 337.4,234.2 338.4,236.4 196.3,420.2"/>
<polygon fill="rgb(0,218,250)" points="195.4,418.8 337.9,235.3 338.9,237.6 197.2,421.6"/>
<polygon fill="rgb(0,214,250)" points="196.3,420.2 338.4,236.4 339.5,238.7 198.1,423.0"/>
<polygon fill="rgb(0,210,250)" points="197.2,421.6 338.9,237.6 340.0,239.9 199.0,424.3"/>
<polygon fill="rgb(0,205,250)" points="198.1,423.0 339.5,238.7 340.5,241.0 199.9,425.7"/>
<polygon fill="rgb(0,201,250)" points="199.0,424.3 340.0,239.9 341.1,242.2 200.8,427.1"/>
<polygon fill="rgb(0,196,250)" points="199.9,425.7 340.5,241.0 341.7,243.3 201.8,428.6"/>
<polygon fill="rgb(0,192,250)" points="200.8,427.1 341.1,242.2 342.2,244.5 202.6,429.9"/>
<polygon fill="rgb(0,187,250)" points="201.8,428.6 341.7,243.3 342.8,245.6 203.5,431.2"/>
<polygon fill="rgb(0,183,250)" points="202.6,429.9 342.2,244.5 343.4,246.7 204.4,432.6"/>
<polygon fill="rgb(0,178,250)" points="203.5,431.2 342.8,245.6 343.9,247.8 205.3,433.9"/>
<polygon fill="rgb(0,173,250)" points="204.4,432.6 343.4,246.7 344.5,248.9 206.3,435.3"/>
<polygon fill="rgb(0,169,250)" points="205.3,433.9 343.9,247.8 345.1,250.1 207.2,436.7"/>
<polygon fill="rgb(0,164,250)" points="206.3,435.3 344.5,248.9 345.8,251.2 208.1,438.0"/>
<polygon fill="rgb(0,159,250)" points="207.2,436.7 345.1,250.1 346.4,252.4 209.1,439.4"/>
<polygon fill="rgb(0,154,250)" points="208.1,438.0 345.8,251.2 347.1,253.5 210.0,440.8"/>
<polygon fill="rgb(0,149,250)" points="209.1,439.4 346.4,252.4 347.7,254.6 211.0,442.1"/>
<polygon fill="rgb(0,145,250)" points="210.0,440.8 347.1,253.5 348.4,255.8 211.9,443.5"/>
<polygon fill="rgb(0,140,250)" points="211.0,442.1 347.7,254.6 349.1,256.9 212.8,444.8"/>
<polygon fill="rgb(0,135,250)" points="211.9,443.5 348.4,255.8 349.8,258.0 213.8,446.2"/>
<polygon fill="rgb(0,131,250)" points="212.8,444.8 349.1,256.9 350.5,259.2 214.8,447.5"/>
<polygon fill="rgb(0,126,250)" points="213.8,446.2 349.8,258.0 351.3,260.4 215.8,448.9"/>
<polygon fill="rgb(0,121,250)" points="214.8,447.5 350.5,259.2 352.0,261.5 216.7,450.2"/>
<polygon fill="rgb(0,117,250)" points="215.8,448.9 351.3,260.4 352.8,262.6 217.7,451.5"/>
<polygon fill="rgb(0,113,250)" points="216.7,450.2 352.0,261.5 353.6,263.8 218.7,452.8"/>
<polygon fill="rgb(0,108,250)" points="217.7,451.5 352.8,262.6 354.5,265.0 219.7,454.2"/>
<polygon fill="rgb(0,104,250)" points="218.7,452.8 353.6,263.8 355.4,266.2 220.7,455.5"/>
<polygon fill="rgb(0,100,250)" points="219.7,454.2 354.5,265.0 356.3,267.3 221.7,456.8"/>
<polygon fill="rgb(0,96,250)" points="220.7,455.5 355.4,266.2 357.2,268.5 222.7,458.1"/>
<polygon fill="rgb(0,92,250)" points="221.7,456.8 356.3,267.3 358.2,269.7 223.7,459.4"/>
<polygon fill="rgb(0,89,250)" points="222.7,458.1 357.2,268.5 359.2,271.0 224.8,460.7"/>
<polygon fill="rgb(0,85,250)" points="223.7,459.4 358.2,269.7 360.2,272.1 225.8,462.0"/>
<polygon fill="rgb(0,81,250)" points="224.8,460.7 359.2,271.0 361.3,273.4 226.8,463.3"/>
<polygon fill="rgb(0,78,250)" points="225.8,462.0 360.2,272.1 362.5,274.6 227.9,464.6"/>
<polygon fill="rgb(0,75,250)" points="226.8,463.3 361.3,273.4 363.7,275.8 228.9,465.8"/>
<polygon fill="rgb(0,72,250)" points="227.9,464.6 362.5,274.6 364.8,277.0 229.8,467.0"/>
<polygon fill="rgb(0,69,250)" points="228.9,465.8 363.7,275.8 366.0,278.2 230.8,468.1"/>
<polygon fill="rgb(0,66,250)" points="229.8,467.0 364.8,277.0 367.2,279.3 231.8,469.2"/>
<polygon fill="rgb(0,64,250)" points="230.8,468.1 366.0,278.2 368.4,280.5 232.7,470.3"/>
<polygon fill="rgb(0,61,250)" points="231.8,469.2 367.2,279.3 369.6,281.6 233.6,471.4"/>
<polygon fill="rgb(0,59,250)" points="232.7,470.3 368.4,280.5 370.9,282.8 234.6,472.4"/>
<polygon fill="rgb(0,57,250)" points="233.6,471.4 369.6,281.6 372.1,283.9 235.4,473.4"/>
<polygon fill="rgb(0,55,250)" points="234.6,472.4 370.9,282.8 373.4,285.0 236.3,474.4"/>
<polygon fill="rgb(0,54,250)" points="235.4,473.4 372.1,283.9 374.8,286.2 237.3,475.4"/>
<polygon fill="rgb(0,52,250)" points="236.3,474.4 373.4,285.0 376.1,287.2 238.1,476.3"/>
<polygon fill="rgb(0,50,250)" points="237.3,475.4 374.8,286.2 377.4,288.3 239.0,477.3"/>
<polygon fill="rgb(0,49,250)" points="238.1,476.3 376.1,287.2 378.8,289.4 240.0,478.2"/>
<polygon fill="rgb(0,48,250)" points="239.0,477.3 377.4,288.3 380.3,290.6 241.0,479.3"/>
<polygon fill="rgb(0,46,250)" points="240.0,478.2 378.8,289.4 381.5,291.6 241.9,480.2"/>
<polygon fill="rgb(0,45,250)" points="241.0,479.3 380.3,290.6 382.8,292.6 242.9,481.2"/>
<polygon fill="rgb(0,44,250)" points="241.9,480.2 381.5,291.6 384.1,293.7 244.0,482.2"/>
<polygon fill="rgb(0,43,250)" points="242.9,481.2 382.8,292.6 385.4,294.7 245.1,483.3"/>
<polygon fill="rgb(0,42,250)" points="244.0,482.2 384.1,293.7 386.6,295.7 246.5,484.5"/>
<polygon fill="rgb(0,40,250)" points="245.1,483.3 385.4,294.7 387.7,296.5 247.7,485.7"/>
<polygon fill="rgb(0,40,250)" points="246.5,484.5 386.6,295.7 388.8,297.4 249.2,487.0"/>
<polygon fill="rgb(0,39,250)" points="247.7,485.7 387.7,296.5 390.1,298.4 250.2,487.9"/>
<polygon fill="rgb(0,38,250)" points="249.2,487.0 388.8,297.4 391.3,299.4 250.2,487.9"/>
<polygon fill="rgb(0,36,250)" points="246.6,484.7 386.8,295.8 390.1,298.4 391.3,299.4 392.7,300.5 394.0,301.5 395.4,302.6 396.8,303.7 398.2,304.8 399.7,306.0 401.0,307.0 402.4,308.0 403.9,309.1 405.4,310.2 406.8,311.2 408.3,312.3 410.0,313.4 411.4,314.4 411.5,314.5 411.3,315.2 304.1,432.2 272.4,465.4 250.2,487.9"/>
<line x1="171.2" y1="375.5" x2="323.3" y2="197.7" stroke="#004848" stroke-opacity="0.09" stroke-width="2"/>
</g>
<g id="above">
<circle cx="255.2" cy="215.9" r="2.3" fill="url(#ball)"/>
<circle cx="256.5" cy="219.9" r="2.3" fill="url(#ball)"/>
<circle cx="258.1" cy="224.1" r="2.3" fill="url(#ball)"/>
<circle cx="272.1" cy="218.2" r="2.3" fill="url(#ball)"/>
<circle cx="228.4" cy="282.0" r="2.2" fill="url(#ball)"/>
<circle cx="230.1" cy="286.8" r="2.2" fill="url(#ball)"/>
<circle cx="283.0" cy="249.1" r="2.3" fill="url(#ball)"/>
<circle cx="286.7" cy="259.3" r="2.5" fill="url(#ball)"/>
<circle cx="289.3" cy="266.5" r="2.3" fill="url(#ball)"/>
<circle cx="300.9" cy="255.0" r="2.3" fill="url(#ball)"/>
<circle cx="302.6" cy="259.7" r="2.3" fill="url(#ball)"/>
<circle cx="211.2" cy="330.8" r="1.9" fill="url(#ball)"/>
<circle cx="249.6" cy="201.8" r="1.5" fill="url(#ball)"/>
<circle cx="218.3" cy="255.4" r="1.8" fill="url(#ball)"/>
<circle cx="311.6" cy="280.6" r="1.5" fill="url(#ball)"/>
<circle cx="297.8" cy="286.5" r="1.5" fill="url(#ball)"/>
</g>
<g opacity="0.999"><line class="ax" x1="48.1" y1="339.0" x2="250.1" y2="491.5"/>
<line class="ax" x1="250.1" y1="491.5" x2="411.3" y2="315.2"/>
<line class="ax" x1="411.3" y1="315.2" x2="455.6" y2="113.7"/>
<line class="tk" x1="70.6" y1="356.0" x2="67.8" y2="358.2"/>
<line class="tk" x1="117.6" y1="391.5" x2="114.9" y2="393.9"/>
<line class="tk" x1="167.9" y1="429.5" x2="165.2" y2="432.1"/>
<line class="tk" x1="221.7" y1="470.1" x2="219.1" y2="472.9"/>
<line class="tk" x1="93.7" y1="373.4" x2="92.3" y2="374.6"/>
<line class="tk" x1="142.3" y1="410.2" x2="141.0" y2="411.4"/>
<line class="tk" x1="194.3" y1="449.4" x2="193.0" y2="450.8"/>
<line class="tk" x1="250.1" y1="491.5" x2="253.3" y2="494.0"/>
<line class="tk" x1="264.4" y1="475.8" x2="266.1" y2="477.0"/>
<line class="tk" x1="278.4" y1="460.5" x2="281.6" y2="462.8"/>
<line class="tk" x1="292.1" y1="445.6" x2="293.7" y2="446.7"/>
<line class="tk" x1="305.3" y1="431.1" x2="308.5" y2="433.3"/>
<line class="tk" x1="318.3" y1="416.9" x2="319.9" y2="418.0"/>
<line class="tk" x1="330.9" y1="403.1" x2="334.1" y2="405.2"/>
<line class="tk" x1="343.2" y1="389.6" x2="344.8" y2="390.7"/>
<line class="tk" x1="355.3" y1="376.5" x2="358.4" y2="378.5"/>
<line class="tk" x1="367.0" y1="363.6" x2="368.6" y2="364.6"/>
<line class="tk" x1="378.5" y1="351.1" x2="381.6" y2="353.0"/>
<line class="tk" x1="389.7" y1="338.8" x2="391.2" y2="339.8"/>
<line class="tk" x1="400.6" y1="326.9" x2="403.7" y2="328.7"/>
<line class="tk" x1="411.3" y1="315.2" x2="414.4" y2="316.9"/>
<line class="tk" x1="415.0" y1="298.6" x2="416.5" y2="299.5"/>
<line class="tk" x1="418.7" y1="281.4" x2="421.9" y2="283.2"/>
<line class="tk" x1="422.7" y1="263.5" x2="424.3" y2="264.4"/>
<line class="tk" x1="426.8" y1="244.8" x2="430.1" y2="246.6"/>
<line class="tk" x1="431.1" y1="225.3" x2="432.8" y2="226.2"/>
<line class="tk" x1="435.5" y1="205.0" x2="439.0" y2="206.8"/>
<line class="tk" x1="440.2" y1="183.7" x2="442.0" y2="184.6"/>
<line class="tk" x1="445.1" y1="161.5" x2="448.8" y2="163.3"/>
<line class="tk" x1="450.2" y1="138.2" x2="452.1" y2="139.1"/>
<line class="tk" x1="455.6" y1="113.7" x2="459.4" y2="115.5"/>
<text class="t3" transform="matrix(0.8265,-0.6913,0.7512,0.5838,53.70,374.33)">2</text>
<text class="t3" transform="matrix(0.8206,-0.6864,0.7510,0.5797,58.28,370.50)">0</text>
<text class="t3" transform="matrix(0.8148,-0.6816,0.7507,0.5756,62.83,366.69)">0</text>
<text class="t3" transform="matrix(0.8228,-0.7389,0.8025,0.6236,101.05,411.12)">1</text>
<text class="t3" transform="matrix(0.8168,-0.7334,0.8020,0.6191,105.61,407.02)">5</text>
<text class="t3" transform="matrix(0.8109,-0.7281,0.8016,0.6146,110.13,402.96)">0</text>
<text class="t3" transform="matrix(0.8167,-0.7914,0.8591,0.6677,151.68,450.46)">1</text>
<text class="t3" transform="matrix(0.8105,-0.7854,0.8584,0.6626,156.20,446.08)">0</text>
<text class="t3" transform="matrix(0.8044,-0.7795,0.8577,0.6577,160.69,441.73)">0</text>
<text class="t3" transform="matrix(0.8012,-0.8431,0.9210,0.7109,210.42,487.93)">5</text>
<text class="t3" transform="matrix(0.7950,-0.8366,0.9200,0.7054,214.86,483.26)">0</text>
<text class="t3" transform="matrix(0.9559,0.7249,-0.7777,0.8598,254.27,499.85)">2</text>
<text class="t3" transform="matrix(0.9474,0.6878,-0.7377,0.8156,282.69,468.42)">4</text>
<text class="t3" transform="matrix(0.9385,0.6536,-0.7007,0.7746,309.67,438.60)">6</text>
<text class="t3" transform="matrix(0.9293,0.6218,-0.6664,0.7367,335.31,410.25)">8</text>
<text class="t3" transform="matrix(0.9199,0.5923,-0.6345,0.7015,359.71,383.27)">1</text>
<text class="t3" transform="matrix(0.9254,0.5959,-0.6331,0.7057,364.84,386.58)">0</text>
<text class="t3" transform="matrix(0.9104,0.5649,-0.6049,0.6688,382.96,357.57)">1</text>
<text class="t3" transform="matrix(0.9157,0.5682,-0.6035,0.6727,388.03,360.72)">2</text>
<text class="t3" transform="matrix(0.9007,0.5393,-0.5773,0.6383,405.13,333.06)">1</text>
<text class="t3" transform="matrix(0.9058,0.5424,-0.5759,0.6419,410.15,336.06)">4</text>
<text class="t3" transform="matrix(0.8921,0.5246,-0.1509,0.6606,417.31,321.36)">0</text>
<text class="t3" transform="matrix(0.8971,0.5276,-0.1553,0.6601,422.29,324.29)">.</text>
<text class="t3" transform="matrix(0.8996,0.5291,-0.1576,0.6598,424.78,325.75)">0</text>
<text class="t3" transform="matrix(0.9323,0.5284,-0.1634,0.7153,424.97,287.83)">0</text>
<text class="t3" transform="matrix(0.9377,0.5315,-0.1682,0.7149,430.17,290.78)">.</text>
<text class="t3" transform="matrix(0.9405,0.5330,-0.1707,0.7147,432.78,292.26)">2</text>
<text class="t3" transform="matrix(0.9762,0.5309,-0.1775,0.7770,433.28,251.47)">0</text>
<text class="t3" transform="matrix(0.9822,0.5341,-0.1828,0.7768,438.73,254.43)">.</text>
<text class="t3" transform="matrix(0.9851,0.5358,-0.1855,0.7767,441.46,255.91)">4</text>
<text class="t3" transform="matrix(1.0245,0.5318,-0.1936,0.8471,442.33,211.89)">0</text>
<text class="t3" transform="matrix(1.0310,0.5352,-0.1994,0.8471,448.04,214.86)">.</text>
<text class="t3" transform="matrix(1.0342,0.5369,-0.2023,0.8471,450.91,216.35)">6</text>
<text class="t3" transform="matrix(1.0776,0.5307,-0.2119,0.9272,452.20,168.66)">0</text>
<text class="t3" transform="matrix(1.0848,0.5342,-0.2183,0.9275,458.22,171.62)">.</text>
<text class="t3" transform="matrix(1.0884,0.5360,-0.2215,0.9276,461.24,173.11)">8</text>
<text class="t3" transform="matrix(1.1366,0.5267,-0.2329,1.0191,463.04,121.24)">1</text>
<text class="t3" transform="matrix(1.1445,0.5304,-0.2400,1.0198,469.38,124.18)">.</text>
<text class="t3" transform="matrix(1.1485,0.5323,-0.2436,1.0201,472.57,125.66)">0</text>
<text class="t3" transform="matrix(0.8519,0.6716,-0.9516,0.7954,43.40,382.13)">E</text>
<text class="t3" transform="matrix(0.8589,0.6771,-0.9513,0.8020,49.11,386.62)">f</text>
<text class="t3" transform="matrix(0.8618,0.6794,-0.9512,0.8047,51.50,388.51)">f</text>
<text class="t3" transform="matrix(0.8647,0.6817,-0.9510,0.8075,53.89,390.40)">e</text>
<text class="t3" transform="matrix(0.8706,0.6864,-0.9507,0.8131,58.72,394.20)">c</text>
<text class="t3" transform="matrix(0.8760,0.6906,-0.9504,0.8181,63.09,397.65)">t</text>
<text class="t3" transform="matrix(0.8790,0.6930,-0.9502,0.8210,65.52,399.57)">i</text>
<text class="t3" transform="matrix(0.8814,0.6949,-0.9501,0.8232,67.48,401.11)">v</text>
<text class="t3" transform="matrix(0.8869,0.6992,-0.9497,0.8284,71.90,404.60)">e</text>
<text class="t3" transform="matrix(0.8962,0.7065,-0.9491,0.8371,79.34,410.46)">a</text>
<text class="t3" transform="matrix(0.9024,0.7115,-0.9486,0.8430,84.34,414.40)">c</text>
<text class="t3" transform="matrix(0.9081,0.7159,-0.9482,0.8483,88.86,417.97)">c</text>
<text class="t3" transform="matrix(0.9138,0.7204,-0.9477,0.8537,93.42,421.56)">u</text>
<text class="t3" transform="matrix(0.9202,0.7255,-0.9472,0.8598,98.52,425.58)">m</text>
<text class="t3" transform="matrix(0.9300,0.7332,-0.9463,0.8690,106.22,431.66)">u</text>
<text class="t3" transform="matrix(0.9366,0.7384,-0.9457,0.8752,111.42,435.75)">l</text>
<text class="t3" transform="matrix(0.9393,0.7405,-0.9454,0.8777,113.50,437.39)">a</text>
<text class="t3" transform="matrix(0.9460,0.7458,-0.9447,0.8840,118.74,441.52)">t</text>
<text class="t3" transform="matrix(0.9494,0.7485,-0.9444,0.8872,121.37,443.60)">e</text>
<text class="t3" transform="matrix(0.9562,0.7538,-0.9437,0.8936,126.67,447.78)">d</text>
<text class="t3" transform="matrix(0.9665,0.7620,-0.9425,0.9033,134.69,454.10)">r</text>
<text class="t3" transform="matrix(0.9707,0.7653,-0.9420,0.9073,137.92,456.64)">a</text>
<text class="t3" transform="matrix(0.9777,0.7709,-0.9412,0.9139,143.33,460.91)">i</text>
<text class="t3" transform="matrix(0.9806,0.7731,-0.9408,0.9166,145.51,462.63)">n</text>
<text class="t3" transform="matrix(0.9877,0.7787,-0.9400,0.9233,150.98,466.94)">f</text>
<text class="t3" transform="matrix(0.9913,0.7816,-0.9395,0.9267,153.73,469.11)">a</text>
<text class="t3" transform="matrix(0.9986,0.7873,-0.9386,0.9336,159.27,473.47)">l</text>
<text class="t3" transform="matrix(1.0015,0.7896,-0.9382,0.9363,161.49,475.22)">l</text>
<text class="t3" transform="matrix(1.0082,0.7948,-0.9373,0.9426,166.51,479.19)">(</text>
<text class="t3" transform="matrix(1.0126,0.7984,-0.9367,0.9468,169.88,481.84)">m</text>
<text class="t3" transform="matrix(1.0239,0.8072,-0.9351,0.9574,178.36,488.53)">m</text>
<text class="t3" transform="matrix(1.0354,0.8163,-0.9334,0.9682,186.93,495.29)">)</text>
<text class="t3" transform="matrix(0.7658,-0.8788,1.0885,0.7415,347.33,438.89)">D</text>
<text class="t3" transform="matrix(0.7573,-0.8691,1.0860,0.7334,352.83,432.57)">u</text>
<text class="t3" transform="matrix(0.7509,-0.8618,1.0841,0.7272,357.02,427.76)">r</text>
<text class="t3" transform="matrix(0.7472,-0.8575,1.0829,0.7236,359.52,424.90)">a</text>
<text class="t3" transform="matrix(0.7409,-0.8503,1.0809,0.7176,363.66,420.15)">t</text>
<text class="t3" transform="matrix(0.7378,-0.8467,1.0800,0.7146,365.71,417.79)">i</text>
<text class="t3" transform="matrix(0.7353,-0.8439,1.0792,0.7122,367.35,415.91)">o</text>
<text class="t3" transform="matrix(0.7292,-0.8369,1.0772,0.7063,371.42,411.24)">n</text>
<text class="t3" transform="matrix(0.7202,-0.8265,1.0743,0.6976,377.46,404.30)">(</text>
<text class="t3" transform="matrix(0.7166,-0.8224,1.0731,0.6942,379.86,401.56)">d</text>
<text class="t3" transform="matrix(0.7107,-0.8156,1.0711,0.6886,383.83,397.00)">)</text>
<text class="t3" transform="matrix(0.2297,-0.8823,1.1400,0.6192,458.61,263.91)">P</text>
<text class="t3" transform="matrix(0.2328,-0.8942,1.1486,0.6196,460.15,257.99)">r</text>
<text class="t3" transform="matrix(0.2344,-0.9002,1.1530,0.6197,460.93,255.00)">o</text>
<text class="t3" transform="matrix(0.2370,-0.9104,1.1603,0.6200,462.24,249.97)">b</text>
<text class="t3" transform="matrix(0.2397,-0.9207,1.1677,0.6203,463.56,244.88)">a</text>
<text class="t3" transform="matrix(0.2425,-0.9312,1.1753,0.6205,464.91,239.73)">b</text>
<text class="t3" transform="matrix(0.2452,-0.9420,1.1829,0.6207,466.26,234.52)">i</text>
<text class="t3" transform="matrix(0.2464,-0.9463,1.1859,0.6207,466.81,232.42)">l</text>
<text class="t3" transform="matrix(0.2475,-0.9507,1.1890,0.6208,467.36,230.31)">i</text>
<text class="t3" transform="matrix(0.2487,-0.9550,1.1921,0.6209,467.91,228.20)">t</text>
<text class="t3" transform="matrix(0.2501,-0.9606,1.1960,0.6209,468.60,225.53)">y</text>
<line class="st" x1="628.0" y1="59.5" x2="580.6" y2="59.5"/>
<line class="st" x1="628.0" y1="64.5" x2="584.6" y2="64.5"/>
<line class="st" x1="628.0" y1="73.5" x2="569.7" y2="73.5"/>
<line class="st" x1="628.0" y1="74.5" x2="539.9" y2="74.5"/>
<line class="st" x1="628.0" y1="80.5" x2="532.7" y2="80.5"/>
<line class="st" x1="628.0" y1="94.5" x2="522.6" y2="94.5"/>
<line class="st" x1="628.0" y1="100.5" x2="556.3" y2="100.5"/>
<line class="st" x1="628.0" y1="112.5" x2="580.6" y2="112.5"/>
<line class="st" x1="628.0" y1="119.5" x2="583.0" y2="119.5"/>
<line class="st" x1="628.0" y1="120.5" x2="522.6" y2="120.5"/>
<line class="st" x1="628.0" y1="126.5" x2="524.6" y2="126.5"/>
<line class="st" x1="628.0" y1="147.5" x2="535.5" y2="147.5"/>
<line class="st" x1="628.0" y1="176.5" x2="555.2" y2="176.5"/>
<line class="st" x1="628.0" y1="188.5" x2="566.6" y2="188.5"/>
<line class="st" x1="628.0" y1="212.5" x2="581.3" y2="212.5"/>
<line class="st" x1="628.0" y1="214.5" x2="583.5" y2="214.5"/>
<line class="st" x1="628.0" y1="222.5" x2="588.7" y2="222.5"/>
<line class="st" x1="628.0" y1="226.5" x2="597.0" y2="226.5"/>
<line class="st" x1="628.0" y1="228.5" x2="599.0" y2="228.5"/>
<line class="st" x1="628.0" y1="250.5" x2="603.1" y2="250.5"/>
<line class="st" x1="628.0" y1="253.5" x2="616.0" y2="253.5"/>
<line class="st" x1="628.0" y1="260.5" x2="620.2" y2="260.5"/>
<line class="st" x1="628.0" y1="267.5" x2="623.9" y2="267.5"/>
<line class="st" x1="628.0" y1="281.5" x2="642.5" y2="281.5"/>
<line class="st" x1="628.0" y1="295.5" x2="614.7" y2="295.5"/>
<line class="st" x1="628.0" y1="303.5" x2="614.7" y2="303.5"/>
<line class="st" x1="628.0" y1="328.5" x2="616.2" y2="328.5"/>
<line class="st" x1="628.0" y1="335.5" x2="651.5" y2="335.5"/>
<line class="st" x1="628.0" y1="351.5" x2="646.2" y2="351.5"/>
<line class="st" x1="628.0" y1="352.5" x2="645.4" y2="352.5"/>
<line class="st" x1="628.0" y1="362.5" x2="639.4" y2="362.5"/>
<line class="st" x1="628.0" y1="367.5" x2="654.3" y2="367.5"/>
<line class="st" x1="628.0" y1="374.5" x2="648.2" y2="374.5"/>
<line class="st" x1="628.0" y1="371.5" x2="581.4" y2="371.5"/>
<line class="st" x1="628.0" y1="392.5" x2="611.2" y2="392.5"/>
<line class="st" x1="628.0" y1="394.5" x2="555.4" y2="394.5"/>
<line class="st" x1="628.0" y1="402.5" x2="613.3" y2="402.5"/>
<line class="st" x1="628.0" y1="403.5" x2="595.0" y2="403.5"/>
<line class="st" x1="628.0" y1="411.5" x2="583.6" y2="411.5"/>
<line class="st" x1="628.0" y1="414.5" x2="579.0" y2="414.5"/>
<line class="st" x1="628.0" y1="425.5" x2="562.7" y2="425.5"/>
<line class="st" x1="628.0" y1="426.5" x2="574.2" y2="426.5"/>
<line class="st" x1="628.0" y1="428.5" x2="509.7" y2="428.5"/>
<line class="st" x1="628.0" y1="432.5" x2="565.0" y2="432.5"/>
<line class="st" x1="628.0" y1="434.5" x2="573.7" y2="434.5"/>
<line class="st" x1="628.0" y1="435.5" x2="559.9" y2="435.5"/>
<line class="st" x1="628.0" y1="438.5" x2="546.9" y2="438.5"/>
<line class="st" x1="628.0" y1="439.5" x2="555.3" y2="439.5"/>
<line class="st" x1="628.0" y1="438.5" x2="506.4" y2="438.5"/>
<line class="st" x1="628.0" y1="440.5" x2="508.1" y2="440.5"/>
<line class="st" x1="628.0" y1="441.5" x2="553.7" y2="441.5"/>
<line class="st" x1="628.0" y1="443.5" x2="552.4" y2="443.5"/>
<line class="st" x1="628.0" y1="445.5" x2="551.1" y2="445.5"/>
<line class="bx" x1="500.8" y1="54.7" x2="671" y2="54.7"/>
<line class="bx" x1="628.0" y1="54" x2="628.0" y2="473.9"/>
<line class="bx" x1="500.8" y1="54.7" x2="500.8" y2="58.7"/>
<line class="bx" x1="542.7" y1="54.7" x2="542.7" y2="61.2"/>
<line class="bx" x1="585.4" y1="54.7" x2="585.4" y2="58.7"/>
<line class="bx" x1="671.0" y1="54.7" x2="671.0" y2="58.7"/>
<line class="bx" x1="628.0" y1="473.2" x2="621.0" y2="473.2"/>
<line class="bx" x1="628.0" y1="431.3" x2="624.5" y2="431.3"/>
<line class="bx" x1="628.0" y1="389.5" x2="621.0" y2="389.5"/>
<line class="bx" x1="628.0" y1="347.6" x2="624.5" y2="347.6"/>
<line class="bx" x1="628.0" y1="305.8" x2="621.0" y2="305.8"/>
<line class="bx" x1="628.0" y1="263.9" x2="624.5" y2="263.9"/>
<line class="bx" x1="628.0" y1="222.1" x2="621.0" y2="222.1"/>
<line class="bx" x1="628.0" y1="180.2" x2="624.5" y2="180.2"/>
<line class="bx" x1="628.0" y1="138.4" x2="621.0" y2="138.4"/>
<line class="bx" x1="628.0" y1="96.6" x2="624.5" y2="96.6"/>
<text class="sl" x="631.8" y="484.7">0.0</text>
<text class="sl" x="631.8" y="401.0">0.2</text>
<text class="sl" x="631.8" y="317.3">0.4</text>
<text class="sl" x="631.8" y="233.6">0.6</text>
<text class="sl" x="631.8" y="149.9">0.8</text>
<text class="sl" x="631.8" y="66.2">1.0</text>
<text class="sl" x="543.5" y="51.2" text-anchor="middle">-0.04</text>
<text class="sl" x="627.5" y="51.2" text-anchor="middle">0.00</text>
<text class="st18" x="587.6" y="30.5" text-anchor="middle">Residual</text>
<text class="st18" transform="translate(678.1,250) rotate(-90)" text-anchor="middle">Probability</text>
<circle cx="580.6" cy="59.9" r="2.4" fill="#0000ff"/>
<circle cx="584.6" cy="64.5" r="2.4" fill="#0000ff"/>
<circle cx="569.7" cy="73.0" r="2.4" fill="#0000ff"/>
<circle cx="539.9" cy="74.7" r="2.4" fill="#0000ff"/>
<circle cx="532.7" cy="80.0" r="2.4" fill="#0000ff"/>
<circle cx="522.6" cy="94.0" r="2.4" fill="#0000ff"/>
<circle cx="556.3" cy="100.4" r="2.4" fill="#0000ff"/>
<circle cx="580.6" cy="112.0" r="2.4" fill="#0000ff"/>
<circle cx="583.0" cy="119.0" r="2.4" fill="#0000ff"/>
<circle cx="522.6" cy="120.3" r="2.4" fill="#0000ff"/>
<circle cx="524.6" cy="126.0" r="2.4" fill="#0000ff"/>
<circle cx="535.5" cy="147.7" r="2.4" fill="#0000ff"/>
<circle cx="555.2" cy="176.7" r="2.4" fill="#0000ff"/>
<circle cx="566.6" cy="188.1" r="2.4" fill="#0000ff"/>
<circle cx="581.3" cy="212.0" r="2.4" fill="#0000ff"/>
<circle cx="583.5" cy="214.8" r="2.4" fill="#0000ff"/>
<circle cx="588.7" cy="222.0" r="2.4" fill="#0000ff"/>
<circle cx="597.0" cy="226.0" r="2.4" fill="#0000ff"/>
<circle cx="599.0" cy="228.2" r="2.4" fill="#0000ff"/>
<circle cx="603.1" cy="250.1" r="2.4" fill="#0000ff"/>
<circle cx="616.0" cy="253.0" r="2.4" fill="#0000ff"/>
<circle cx="620.2" cy="260.4" r="2.4" fill="#0000ff"/>
<circle cx="623.9" cy="267.4" r="2.4" fill="#0000ff"/>
<circle cx="642.5" cy="281.4" r="2.4" fill="#0000ff"/>
<circle cx="614.7" cy="295.2" r="2.4" fill="#0000ff"/>
<circle cx="614.7" cy="303.1" r="2.4" fill="#0000ff"/>
<circle cx="616.2" cy="328.2" r="2.4" fill="#0000ff"/>
<circle cx="651.5" cy="335.3" r="2.4" fill="#0000ff"/>
<circle cx="646.2" cy="351.2" r="2.4" fill="#0000ff"/>
<circle cx="645.4" cy="352.3" r="2.4" fill="#0000ff"/>
<circle cx="639.4" cy="362.8" r="2.4" fill="#0000ff"/>
<circle cx="654.3" cy="367.2" r="2.4" fill="#0000ff"/>
<circle cx="648.2" cy="374.0" r="2.4" fill="#0000ff"/>
<circle cx="581.4" cy="371.2" r="2.4" fill="#0000ff"/>
<circle cx="611.2" cy="392.0" r="2.4" fill="#0000ff"/>
<circle cx="555.4" cy="394.8" r="2.4" fill="#0000ff"/>
<circle cx="613.3" cy="402.9" r="2.4" fill="#0000ff"/>
<circle cx="595.0" cy="403.8" r="2.4" fill="#0000ff"/>
<circle cx="583.6" cy="411.2" r="2.4" fill="#0000ff"/>
<circle cx="579.0" cy="414.4" r="2.4" fill="#0000ff"/>
<circle cx="562.7" cy="425.3" r="2.4" fill="#0000ff"/>
<circle cx="574.2" cy="426.5" r="2.4" fill="#0000ff"/>
<circle cx="509.7" cy="428.7" r="2.4" fill="#0000ff"/>
<circle cx="565.0" cy="432.2" r="2.4" fill="#0000ff"/>
<circle cx="573.7" cy="434.5" r="2.4" fill="#0000ff"/>
<circle cx="559.9" cy="435.8" r="2.4" fill="#0000ff"/>
<circle cx="546.9" cy="438.1" r="2.4" fill="#0000ff"/>
<circle cx="555.3" cy="439.0" r="2.4" fill="#0000ff"/>
<circle cx="506.4" cy="438.8" r="2.4" fill="#0000ff"/>
<circle cx="508.1" cy="440.9" r="2.4" fill="#0000ff"/>
<circle cx="553.7" cy="441.6" r="2.4" fill="#0000ff"/>
<circle cx="552.4" cy="443.4" r="2.4" fill="#0000ff"/>
<circle cx="551.1" cy="445.3" r="2.4" fill="#0000ff"/>
<rect x="505.3" y="453.6" width="96.3" height="21.7" fill="#fff" stroke="#666" stroke-width="1"/>
<circle cx="525" cy="464.4" r="2.4" fill="#0000ff"/>
<text class="sg" x="546.9" y="469.6">Residual</text>
<text class="cap" x="220.6" y="536.6">(a)</text>
<text class="cap" x="573.6" y="536.6">(b)</text>
</g></svg>
</body></html>
